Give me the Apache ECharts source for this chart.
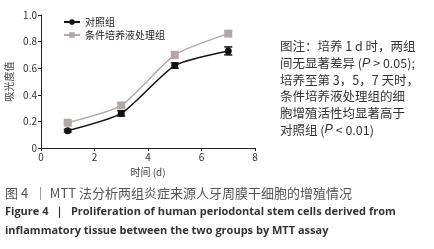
<!DOCTYPE html>
<html>
<head>
<meta charset="utf-8">
<script src="https://cdn.jsdelivr.net/npm/echarts@6/dist/echarts.min.js"></script>
<style>
  html, body { margin: 0; padding: 0; background: #fff; }
  #chart { width: 434px; height: 249px; }
</style>
</head>
<body>
<div id="chart"></div>
<script>
var days = [1, 3, 5, 7]
var controlValues = [0.13, 0.26, 0.62, 0.73]
var controlErrors = [0.01, 0.02, 0.02, 0.03]
var treatedValues = [0.19, 0.32, 0.70, 0.86]
var treatedErrors = [0.01, 0.02, 0.025, 0.02]
var yTicks = [0, 0.2, 0.4, 0.6, 0.8, 1.0]

// {i|P} = italic P
var noteLines = [
  '图注：培养 1 d 时，两组',
  '间无显著差异 ({i|P} > 0.05);',
  '培养至第 3，5，7 天时，',
  '条件培养液处理组的细',
  '胞增殖活性均显著高于',
  '对照组 ({i|P} < 0.01)'
]

var black = '#111'
var grey = '#b3a8a8'
var font = '"Noto Sans CJK SC", "Liberation Sans", sans-serif'

function pairs(xs, ys) {
  return xs.map(function(x, i) { return [x, ys[i]] })
}
function errData(xs, ys, es) {
  return xs.map(function(x, i) { return [x, ys[i] - es[i], ys[i] + es[i]] })
}
function errSeries(data, color) {
  return {
    type: 'custom',
    z: 3,
    silent: true,
    data: data,
    renderItem: function(params, api) {
      var lo = api.coord([api.value(0), api.value(1)])
      var hi = api.coord([api.value(0), api.value(2)])
      var w = 4
      var st = { stroke: color, lineWidth: 1.5 }
      return {
        type: 'group',
        children: [
          { type: 'line', shape: { x1: lo[0], y1: lo[1], x2: hi[0], y2: hi[1] }, style: st },
          { type: 'line', shape: { x1: lo[0] - w, y1: lo[1], x2: lo[0] + w, y2: lo[1] }, style: st },
          { type: 'line', shape: { x1: hi[0] - w, y1: hi[1], x2: hi[0] + w, y2: hi[1] }, style: st }
        ]
      }
    }
  }
}

var chart = echarts.init(document.getElementById('chart'))
chart.setOption({
  backgroundColor: '#fff',
  animation: false,
  textStyle: { fontFamily: font },
  grid: { left: 41, right: 179, top: 15, bottom: 101 },
  legend: {
    left: 58,
    top: 12,
    orient: 'vertical',
    itemWidth: 16,
    itemHeight: 7,
    itemGap: 3,
    textStyle: { fontSize: 10, color: '#222', fontFamily: font },
    data: ['对照组', '条件培养液处理组']
  },
  xAxis: {
    type: 'value',
    min: 0,
    max: 8,
    interval: 2,
    name: '时间 (d)',
    nameLocation: 'middle',
    nameGap: 17,
    nameTextStyle: { fontSize: 10, color: '#444' },
    axisLine: { lineStyle: { color: '#222', width: 1 } },
    axisTick: { length: 3, lineStyle: { color: '#222' } },
    axisLabel: { fontSize: 10, color: '#333', margin: 4 },
    splitLine: { show: false }
  },
  yAxis: {
    type: 'value',
    min: 0,
    max: 1,
    interval: 0.2,
    name: '吸光度值',
    nameLocation: 'middle',
    nameGap: 27,
    nameRotate: 90,
    nameTextStyle: { fontSize: 10, color: '#444' },
    axisLine: { show: true, lineStyle: { color: '#222', width: 1 } },
    axisTick: { show: true, length: 3, lineStyle: { color: '#222' } },
    axisLabel: {
      fontSize: 10,
      color: '#333',
      margin: 4,
      formatter: function(v) {
        return yTicks.indexOf(v) === 0 ? '0' : v.toFixed(1)
      }
    },
    splitLine: { show: false }
  },
  graphic: [
    {
      type: 'text',
      left: 280,
      top: 38,
      style: {
        text: noteLines.join('\n'),
        font: '12.5px ' + font,
        fill: '#333',
        lineHeight: 16.7,
        rich: {
          i: { fontStyle: 'italic', fontSize: 12.5, fontFamily: 'Liberation Sans', fill: '#333', lineHeight: 16.7 }
        }
      }
    },
    {
      type: 'text',
      left: 5,
      top: 187,
      style: { text: '图 4  ｜ MTT 法分析两组炎症来源人牙周膜干细胞的增殖情况', font: '13px ' + font, fill: '#555' }
    },
    {
      type: 'text',
      left: 5,
      top: 206,
      style: { text: 'Figure 4  ｜  Proliferation of human periodontal stem cells derived from', font: 'bold 11px "Open Sans", "Liberation Sans", sans-serif', fill: '#333' }
    },
    {
      type: 'text',
      left: 5,
      top: 225,
      style: { text: 'inflammatory tissue between the two groups by MTT assay', font: 'bold 11px "Open Sans", "Liberation Sans", sans-serif', fill: '#333' }
    }
  ],
  series: [
    {
      name: '条件培养液处理组',
      type: 'line',
      smooth: 0.2,
      z: 2,
      data: pairs(days, treatedValues),
      symbol: 'rect',
      symbolSize: 8,
      itemStyle: { color: grey },
      lineStyle: { color: grey, width: 1.5 }
    },
    errSeries(errData(days, treatedValues, treatedErrors), grey),
    {
      name: '对照组',
      type: 'line',
      smooth: 0.2,
      z: 4,
      data: pairs(days, controlValues),
      symbol: 'circle',
      symbolSize: 7,
      itemStyle: { color: black },
      lineStyle: { color: black, width: 1.5 }
    },
    errSeries(errData(days, controlValues, controlErrors), black)
  ]
})
</script>
</body>
</html>
